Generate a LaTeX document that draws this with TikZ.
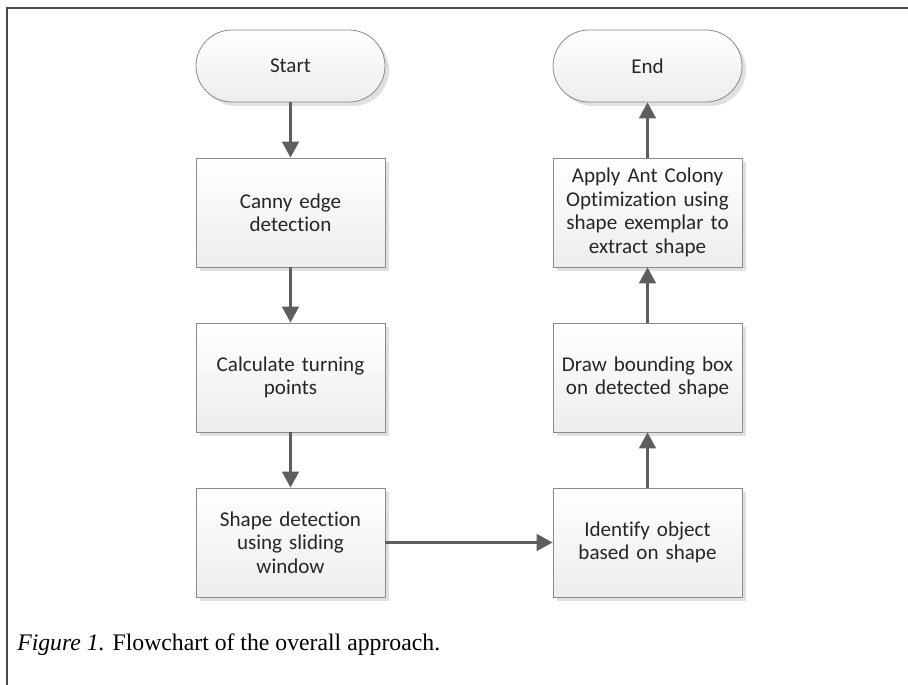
\documentclass[tikz,border=0pt]{standalone}
\usepackage{fontspec}
\setmainfont{Liberation Serif}
\newfontfamily\boxfont[Ligatures=NoCommon]{Carlito}
\usetikzlibrary{arrows.meta,shadows}
\definecolor{edgegray}{HTML}{8A8A8A}
\definecolor{arrowgray}{HTML}{5E5E5E}
\definecolor{framegray}{HTML}{4A4A4A}
\definecolor{textdark}{HTML}{262626}
\tikzset{
  flowbox/.style={draw=edgegray, line width=0.6pt,
    top color=white, bottom color=black!7,
    minimum width=141.75pt, minimum height=81.75pt,
    inner sep=2pt, align=center, text width=134pt,
    font=\boxfont\fontsize{15.8}{17.6}\selectfont, text=textdark,
    drop shadow={shadow xshift=3pt, shadow yshift=-3pt, fill=black!12, opacity=1}},
  terminal/.style={flowbox, minimum height=54pt, rounded corners=27pt},
  flow/.style={draw=arrowgray, line width=1.9pt,
    -{Triangle[length=12pt, width=12.5pt]}},
}
\begin{document}
\begin{tikzpicture}[x=0.75pt, y=-0.75pt]
  \useasboundingbox (0,0) rectangle (908,685);
  % page frame (top and left rules)
  \draw[framegray, line width=1.6pt] (7,685) -- (7,8) -- (908,8);

  % left column
  \node[terminal] (start) at (290.5,66) {Start};
  \node[flowbox] (canny) at (290.5,212.5) {Canny edge\\detection};
  \node[flowbox] (turn) at (290.5,377.5) {Calculate turning\\points};
  \node[flowbox] (detect) at (290.5,542.5) {Shape detection\\using sliding\\window};

  % right column
  \node[flowbox] (identify) at (647.5,542.5) {Identify object\\based on shape};
  \node[flowbox] (bbox) at (647.5,377.5) {Draw bounding box\\on detected shape};
  \node[flowbox] (aco) at (647.5,212.5) {Apply Ant Colony\\Optimization using\\shape exemplar to\\extract shape};
  \node[terminal] (end) at (647.5,66) {End};

  % connectors
  \draw[flow] (start) -- (canny);
  \draw[flow] (canny) -- (turn);
  \draw[flow] (turn) -- (detect);
  \draw[flow] (detect) -- (identify);
  \draw[flow] (identify) -- (bbox);
  \draw[flow] (bbox) -- (aco);
  \draw[flow] (aco) -- (end);

  % caption
  \node[anchor=base west, inner sep=0pt, font=\fontsize{17.8}{21}\selectfont] (caption) at (17,650)
    {\textit{Figure 1.} Flowchart of the overall approach.};
\end{tikzpicture}
\end{document}
